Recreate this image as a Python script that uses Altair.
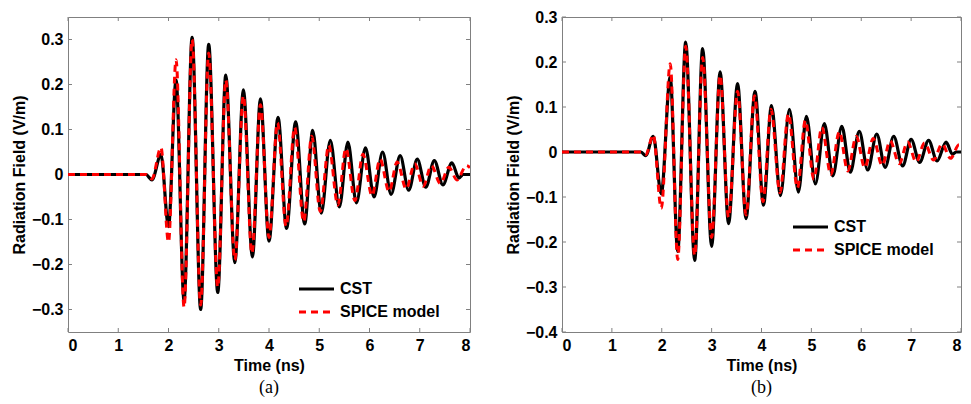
import altair as alt
import pandas as pd

# ---------------- data ----------------
x_ticks = [0, 1, 2, 3, 4, 5, 6, 7, 8]
ya_ticks = [-0.3, -0.2, -0.1, 0, 0.1, 0.2, 0.3]
yb_ticks = [-0.4, -0.3, -0.2, -0.1, 0, 0.1, 0.2, 0.3]
legend_labels = ["CST", "SPICE model"]
captions = ["(a)", "(b)"]

# Panel (a) - CST
a_cst_t = [0.00, 1.55, 1.67, 1.85, 2.00, 2.15, 2.31, 2.47, 2.64, 2.80, 2.98, 3.14, 3.32, 3.49,
           3.67, 3.83, 4.00, 4.18, 4.35, 4.53, 4.71, 4.87, 5.04, 5.22, 5.40, 5.57, 5.74, 5.92,
           6.09, 6.26, 6.43, 6.61, 6.78, 6.95, 7.12, 7.29, 7.46, 7.64, 7.78, 7.86, 8.00]
a_cst_v = [0.0, 0.0, -0.012, 0.044, -0.116, 0.21, -0.28, 0.305, -0.30, 0.289, -0.262, 0.221, -0.196, 0.188,
           -0.183, 0.168, -0.148, 0.127, -0.120, 0.117, -0.110, 0.098, -0.086, 0.076, -0.072, 0.072, -0.063, 0.059,
           -0.050, 0.050, -0.044, 0.042, -0.035, 0.034, -0.028, 0.031, -0.023, 0.026, -0.008, 0.0, 0.0]
# Panel (a) - SPICE model
a_sp_t = [0.00, 1.55, 1.67, 1.85, 2.00, 2.15, 2.31, 2.47, 2.64, 2.80, 2.98, 3.14, 3.32, 3.49,
          3.66, 3.83, 4.00, 4.17, 4.34, 4.51, 4.69, 4.85, 5.02, 5.19, 5.37, 5.53, 5.71, 5.87,
          6.05, 6.21, 6.39, 6.55, 6.73, 6.90, 7.07, 7.23, 7.41, 7.58, 7.74, 7.93, 8.00]
a_sp_v = [0.0, 0.0, -0.010, 0.060, -0.150, 0.255, -0.295, 0.300, -0.290, 0.270, -0.250, 0.210, -0.190, 0.175,
          -0.175, 0.155, -0.140, 0.115, -0.115, 0.105, -0.105, 0.085, -0.082, 0.065, -0.068, 0.058, -0.058, 0.045,
          -0.047, 0.034, -0.038, 0.028, -0.032, 0.024, -0.026, 0.020, -0.020, 0.016, -0.012, 0.020, 0.015]

# Panel (b) - CST
b_cst_t = [0.00, 1.58, 1.68, 1.83, 1.99, 2.17, 2.32, 2.48, 2.66, 2.82, 3.00, 3.17, 3.34, 3.52,
           3.69, 3.87, 4.04, 4.20, 4.38, 4.56, 4.74, 4.90, 5.08, 5.26, 5.43, 5.61, 5.78, 5.96,
           6.13, 6.31, 6.48, 6.65, 6.83, 7.00, 7.17, 7.35, 7.52, 7.70, 7.83, 7.90, 8.00]
b_cst_v = [0.0, 0.0, -0.008, 0.035, -0.093, 0.167, -0.221, 0.244, -0.241, 0.230, -0.210, 0.178, -0.159, 0.152,
           -0.148, 0.135, -0.118, 0.103, -0.097, 0.095, -0.089, 0.079, -0.071, 0.063, -0.053, 0.057, -0.045, 0.046,
           -0.040, 0.040, -0.034, 0.035, -0.031, 0.028, -0.023, 0.026, -0.020, 0.022, -0.005, 0.0, 0.0]
# Panel (b) - SPICE model
b_sp_t = [0.00, 1.58, 1.68, 1.83, 1.99, 2.17, 2.32, 2.48, 2.66, 2.82, 3.00, 3.17, 3.34, 3.52,
          3.69, 3.86, 4.03, 4.19, 4.37, 4.54, 4.72, 4.88, 5.05, 5.21, 5.39, 5.56, 5.73, 5.90,
          6.07, 6.24, 6.42, 6.58, 6.76, 6.93, 7.10, 7.27, 7.45, 7.62, 7.79, 7.96, 8.00]
b_sp_v = [0.0, 0.0, -0.006, 0.038, -0.125, 0.196, -0.239, 0.235, -0.230, 0.210, -0.190, 0.170, -0.145, 0.135,
          -0.140, 0.125, -0.110, 0.095, -0.090, 0.085, -0.080, 0.070, -0.060, 0.055, -0.050, 0.045, -0.042, 0.035,
          -0.035, 0.030, -0.030, 0.025, -0.026, 0.022, -0.022, 0.020, -0.018, 0.018, -0.014, 0.016, 0.014]

FONT = "Liberation Sans"
FRAME = "#808080"
DASH = [7, 5]


def panel(cst_t, cst_v, sp_t, sp_v, ydom, yticks, w, h, caption, lx, ly):
    xenc = alt.X("t:Q", scale=alt.Scale(domain=[0, 8], nice=False, zero=False),
                 axis=alt.Axis(values=x_ticks, format="d", title="Time (ns)"))
    yenc = alt.Y("v:Q", scale=alt.Scale(domain=ydom, nice=False, zero=False),
                 axis=alt.Axis(values=yticks, format=".1~f", title="Radiation Field (V/m)"))

    cst = pd.DataFrame({"t": cst_t, "v": cst_v})
    sp = pd.DataFrame({"t": sp_t, "v": sp_v})
    xt = pd.DataFrame({"t": x_ticks})
    yt = pd.DataFrame({"v": yticks})

    l_cst = alt.Chart(cst).mark_line(color="black", strokeWidth=3.2, interpolate="monotone",
                                     clip=True).encode(x=xenc, y=yenc)
    l_sp = alt.Chart(sp).mark_line(color="#ff0000", strokeWidth=3, strokeDash=DASH,
                                   interpolate="monotone", clip=True).encode(x=xenc, y=yenc)

    tk = dict(color=FRAME, strokeWidth=1)
    t_bot = alt.Chart(xt).mark_rule(**tk).encode(x=xenc, y=alt.value(h), y2=alt.value(h - 4))
    t_top = alt.Chart(xt).mark_rule(**tk).encode(x=xenc, y=alt.value(0), y2=alt.value(4))
    t_left = alt.Chart(yt).mark_rule(**tk).encode(y=yenc, x=alt.value(0), x2=alt.value(4))
    t_right = alt.Chart(yt).mark_rule(**tk).encode(y=yenc, x=alt.value(w), x2=alt.value(w - 4))

    ld0 = pd.DataFrame({"label": [legend_labels[0]]})
    ld1 = pd.DataFrame({"label": [legend_labels[1]]})
    leg_l0 = alt.Chart(ld0).mark_rule(color="black", strokeWidth=3).encode(
        x=alt.value(lx), x2=alt.value(lx + 35), y=alt.value(ly))
    leg_l1 = alt.Chart(ld1).mark_rule(color="#ff0000", strokeWidth=3, strokeDash=DASH).encode(
        x=alt.value(lx), x2=alt.value(lx + 35), y=alt.value(ly + 23))
    txt = dict(align="left", baseline="middle", font=FONT, fontSize=16, fontWeight="bold", color="black")
    leg_t0 = alt.Chart(ld0).mark_text(**txt).encode(
        text="label:N", x=alt.value(lx + 41), y=alt.value(ly))
    leg_t1 = alt.Chart(ld1).mark_text(**txt).encode(
        text="label:N", x=alt.value(lx + 41), y=alt.value(ly + 23))

    return alt.layer(
        t_bot, t_top, t_left, t_right, l_cst, l_sp, leg_l0, leg_l1, leg_t0, leg_t1
    ).properties(
        width=w, height=h,
        title=alt.TitleParams(text=caption, orient="bottom", font="Liberation Serif",
                              fontSize=18, fontWeight="normal", color="black", offset=6),
    )


pa = panel(a_cst_t, a_cst_v, a_sp_t, a_sp_v, [-0.35, 0.35], ya_ticks, 402, 315, captions[0], 231, 272)
pb = panel(b_cst_t, b_cst_v, b_sp_t, b_sp_v, [-0.4, 0.3], yb_ticks, 399, 315, captions[1], 231, 210)

chart = alt.hconcat(pa, pb, spacing=33).properties(
    padding={"left": 2, "top": 0, "right": 0, "bottom": 0}, background="white"
).configure_view(
    stroke=FRAME, strokeWidth=1
).configure_axis(
    labelFont=FONT, labelFontSize=16, labelFontWeight="bold", labelColor="black",
    titleFont=FONT, titleFontSize=16, titleFontWeight="bold", titleColor="black",
    ticks=False, domain=False, grid=False, labelPadding=5, titlePadding=4,
)

chart.save("out.html", embed_options={"renderer": "svg", "actions": False})
